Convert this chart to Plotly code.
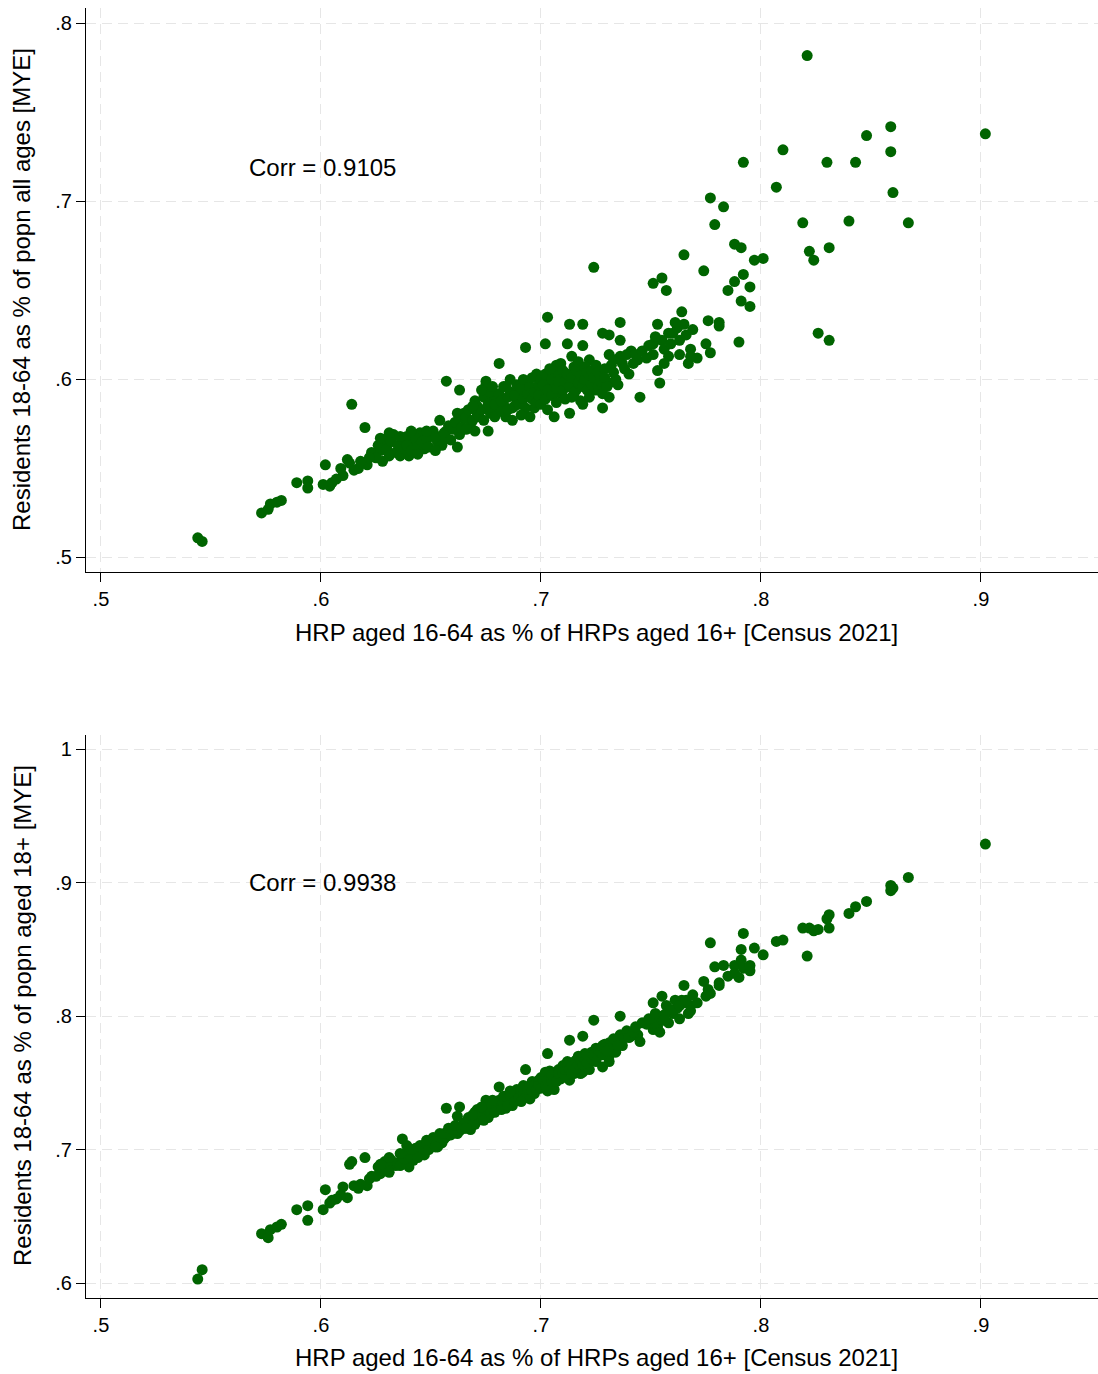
import plotly.graph_objects as go

# ---- data: (x = HRP 16-64 share, y1 = residents 18-64 / all ages, y2 = residents 18-64 / 18+) ----
x_main = [.544, .546, .573, .576, .577, .580, .582, .589, .594, .594,
          .601, .602, .604, .605, .610, .612, .613, .614, .615, .620,
          .621, .623, .627, .628, .629, .633, .634, .637, .639, .640,
          .642, .645, .647, .650, .653, .654, .654, .656, .657, .657,
          .662, .662, .663, .663, .665, .665, .668, .670, .671, .671,
          .675, .675, .676, .678, .680, .681, .683, .684, .684, .687,
          .687, .689, .690, .693, .694, .695, .697, .698, .701, .702,
          .703, .703, .704, .706, .706, .706, .707, .709, .709, .710,
          .712, .712, .713, .713, .714, .715, .715, .716, .718, .719,
          .719, .719, .719, .722, .722, .722, .724, .724, .725, .727,
          .728, .728, .731, .731, .731, .731, .732, .734, .736, .736,
          .736, .737, .741, .744, .745, .751, .751, .751, .753, .753,
          .754, .755, .755, .757, .758, .758, .760, .762, .763, .764,
          .765, .765, .767, .768, .768, .774, .775, .776, .777, .777,
          .779, .781, .781, .783, .785, .788, .788, .790, .791, .791,
          .792, .792, .795, .795, .797, .801, .807, .810, .819, .821,
          .822, .824, .826, .830, .831, .831, .840, .843, .848, .859,
          .859, .860, .867, .902]
y1_main = [.511, .509, .525, .527, .530, .531, .532, .542, .543, .539,
           .541, .552, .540, .542, .546, .555, .553, .586, .549, .573,
           .552, .559, .560, .554, .566, .569, .559, .566, .568, .557,
           .564, .570, .561, .569, .565, .577, .568, .566, .599, .571,
           .562, .581, .594, .569, .581, .578, .575, .571, .585, .581,
           .599, .597, .571, .590, .583, .609, .586, .596, .579, .584,
           .577, .588, .592, .618, .598, .579, .584, .603, .592, .620,
           .635, .583, .598, .579, .596, .603, .608, .609, .592, .601,
           .620, .596, .631, .581, .613, .607, .592, .599, .588, .631,
           .619, .605, .586, .611, .601, .590, .663, .598, .594, .603,
           .626, .584, .625, .614, .598, .590, .608, .600, .632, .622,
           .613, .609, .616, .611, .590, .654, .620, .614, .631, .605,
           .598, .657, .622, .650, .626, .613, .626, .629, .614, .638,
           .631, .670, .609, .617, .613, .661, .620, .633, .702, .615,
           .687, .632, .630, .697, .650, .676, .655, .621, .674, .644,
           .722, .659, .652, .641, .667, .668, .708, .729, .688, .782,
           .672, .667, .626, .722, .674, .622, .689, .722, .737, .742,
           .728, .705, .688, .738]
y2_main = [.603, .610, .637, .634, .640, .642, .644, .655, .658, .647,
           .655, .670, .660, .662, .672, .664, .689, .691, .673, .694,
           .673, .680, .682, .684, .691, .690, .688, .708, .703, .687,
           .692, .703, .696, .702, .702, .712, .706, .708, .731, .710,
           .712, .725, .732, .714, .720, .716, .715, .719, .730, .722,
           .737, .733, .724, .735, .731, .747, .735, .740, .731, .738,
           .733, .740, .743, .760, .745, .738, .742, .750, .748, .758,
           .772, .744, .751, .745, .752, .756, .758, .760, .753, .757,
           .766, .756, .782, .752, .765, .763, .757, .761, .757, .785,
           .770, .765, .758, .770, .766, .760, .797, .768, .766, .772,
           .778, .762, .780, .776, .770, .766, .774, .773, .800, .786,
           .779, .778, .785, .786, .781, .810, .794, .790, .800, .792,
           .788, .815, .797, .808, .803, .795, .802, .806, .798, .812,
           .810, .823, .802, .808, .804, .826, .815, .820, .855, .817,
           .837, .825, .823, .838, .830, .838, .832, .829, .850, .842,
           .862, .836, .834, .838, .851, .846, .856, .857, .866, .845,
           .866, .864, .865, .873, .876, .866, .877, .882, .886, .898,
           .894, .896, .904, .929]

x_core = [.625, .626, .630, .631, .632, .635, .636, .638, .639, .641,
          .643, .644, .646, .648, .649, .651, .652, .655, .656, .658,
          .659, .660, .661, .636, .644, .648, .652, .631, .627, .622,
          .618, .617, .609, .607, .641,
          .664, .666, .667, .669, .670, .672, .673, .674, .674, .676,
          .677, .677, .679, .679, .681, .682, .682, .683, .685, .685,
          .686, .688, .688, .689, .690, .691, .692, .692, .693, .694,
          .695, .696, .696, .697, .698, .699, .699, .700, .700, .686,
          .678, .691, .673, .666, .669,
          .701, .702, .702, .703, .704, .705, .705, .707, .707, .708,
          .708, .710, .710, .711, .711, .712, .713, .714, .714, .716,
          .716, .717, .717, .718, .719, .720, .720, .721, .721, .723,
          .723, .724, .725, .726, .726, .727, .728, .729, .729, .730,
          .733, .733, .735, .738, .739, .740, .742, .743, .746, .748,
          .749, .752, .756, .759, .761, .763, .766, .769, .771, .756]
y1_core = [.556, .563, .561, .557, .565, .563, .557, .561, .563, .560,
           .567, .562, .565, .566, .562, .571, .567, .563, .570, .574,
           .566, .572, .576, .568, .558, .571, .560, .570, .567, .556,
           .554, .550, .550, .544, .571,
           .573, .579, .583, .577, .588, .579, .583, .590, .577, .586,
           .581, .593, .586, .579, .592, .588, .582, .596, .590, .583,
           .593, .591, .585, .597, .586, .595, .589, .600, .584, .592,
           .596, .589, .601, .593, .587, .597, .591, .600, .586, .600,
           .596, .580, .594, .572, .585,
           .597, .603, .589, .594, .606, .591, .600, .595, .587, .602,
           .599, .594, .605, .589, .599, .603, .596, .601, .590, .605,
           .594, .598, .610, .602, .596, .600, .607, .594, .604, .597,
           .605, .601, .608, .596, .604, .599, .592, .606, .601, .596,
           .604, .611, .597, .606, .614, .603, .609, .614, .616, .612,
           .619, .624, .617, .620, .632, .622, .625, .628, .612, .609]
y2_core = [.680, .687, .685, .683, .692, .690, .688, .693, .697, .694,
           .701, .697, .701, .704, .700, .709, .706, .705, .712, .716,
           .711, .715, .718, .697, .694, .707, .702, .694, .689, .678,
           .674, .671, .666, .663, .700,
           .716, .721, .724, .719, .728, .723, .727, .731, .722, .730,
           .727, .735, .732, .728, .737, .735, .730, .740, .738, .733,
           .741, .740, .736, .745, .739, .745, .742, .748, .739, .745,
           .748, .744, .751, .748, .745, .752, .748, .754, .746, .744,
           .737, .736, .732, .716, .726,
           .753, .756, .748, .752, .759, .751, .756, .755, .751, .760,
           .757, .757, .763, .755, .760, .763, .760, .764, .757, .767,
           .761, .764, .770, .767, .764, .768, .772, .765, .771, .768,
           .773, .771, .776, .770, .775, .773, .771, .779, .776, .774,
           .779, .783, .778, .784, .789, .784, .788, .792, .795, .794,
           .798, .802, .801, .805, .812, .808, .812, .816, .810, .797]

x_all = x_main + x_core
y1_all = y1_main + y1_core
y2_all = y2_main + y2_core

tick_x = [.5, .6, .7, .8, .9]
tick_x_text = [".5", ".6", ".7", ".8", ".9"]
tick_y1 = [.5, .6, .7, .8]
tick_y1_text = [".5", ".6", ".7", ".8"]
tick_y2 = [.6, .7, .8, .9, 1.0]
tick_y2_text = [".6", ".7", ".8", ".9", "1"]

corr1_text = "Corr = 0.9105"
corr2_text = "Corr = 0.9938"
x_title = "HRP aged 16-64 as % of HRPs aged 16+ [Census 2021]"
y1_title = "Residents 18-64 as % of popn all ages [MYE]"
y2_title = "Residents 18-64 as % of popn aged 18+ [MYE]"

GREEN = "#006400"
FONT = "Liberation Sans, Arial, sans-serif"
W, H = 1098, 1374

fig = go.Figure()
fig.add_trace(go.Scatter(x=x_all, y=y1_all, mode="markers", xaxis="x", yaxis="y",
                         marker=dict(color=GREEN, size=11, line=dict(width=0)),
                         showlegend=False))
fig.add_trace(go.Scatter(x=x_all, y=y2_all, mode="markers", xaxis="x2", yaxis="y2",
                         marker=dict(color=GREEN, size=11, line=dict(width=0)),
                         showlegend=False))

xl, xr = 86 / W, 1.0
top_dom = [1 - 572 / H, 1 - 8 / H]
bot_dom = [1 - 1298 / H, 1 - 735 / H]

common_axis = dict(showline=True, linecolor="black", linewidth=1.3,
                   ticks="outside", ticklen=9, tickwidth=1.3, tickcolor="black",
                   showgrid=True, gridcolor="#e6e6e6", gridwidth=1.3, griddash="10px,6px",
                   zeroline=False, tickfont=dict(family=FONT, size=20, color="black"),
                   fixedrange=True)

fig.update_layout(
    width=W, height=H,
    margin=dict(l=0, r=0, t=0, b=0),
    paper_bgcolor="white", plot_bgcolor="white",
    font=dict(family=FONT, color="black"),
    xaxis=dict(domain=[xl, xr], range=[.4932, .9532], anchor="y",
               tickvals=tick_x, ticktext=tick_x_text, **common_axis),
    yaxis=dict(domain=top_dom, range=[.4918, .8087], anchor="x",
               tickvals=tick_y1, ticktext=tick_y1_text, **common_axis),
    xaxis2=dict(domain=[xl, xr], range=[.4932, .9532], anchor="y2",
                tickvals=tick_x, ticktext=tick_x_text, **common_axis),
    yaxis2=dict(domain=bot_dom, range=[.5888, 1.0107], anchor="x2",
                tickvals=tick_y2, ticktext=tick_y2_text, **common_axis),
)

ann = [
    dict(x=.5664, y=.7193, xref="x", yref="y", text=corr1_text, showarrow=False,
         xanchor="left", yanchor="middle", font=dict(family=FONT, size=24, color="black")),
    dict(x=.5664, y=.9, xref="x2", yref="y2", text=corr2_text, showarrow=False,
         xanchor="left", yanchor="middle", font=dict(family=FONT, size=24, color="black")),
    dict(x=596 / W, y=1 - 632 / H, xref="paper", yref="paper", text=x_title, showarrow=False,
         xanchor="center", yanchor="middle", font=dict(family=FONT, size=24, color="black")),
    dict(x=596 / W, y=1 - 1357 / H, xref="paper", yref="paper", text=x_title, showarrow=False,
         xanchor="center", yanchor="middle", font=dict(family=FONT, size=24, color="black")),
    dict(x=22 / W, y=1 - 290 / H, xref="paper", yref="paper", text=y1_title, showarrow=False,
         textangle=-90, xanchor="center", yanchor="middle",
         font=dict(family=FONT, size=24, color="black")),
    dict(x=22 / W, y=1 - 1016 / H, xref="paper", yref="paper", text=y2_title, showarrow=False,
         textangle=-90, xanchor="center", yanchor="middle",
         font=dict(family=FONT, size=24, color="black")),
]
fig.update_layout(annotations=ann)

fig.write_html("out.html", config={"displayModeBar": False})
